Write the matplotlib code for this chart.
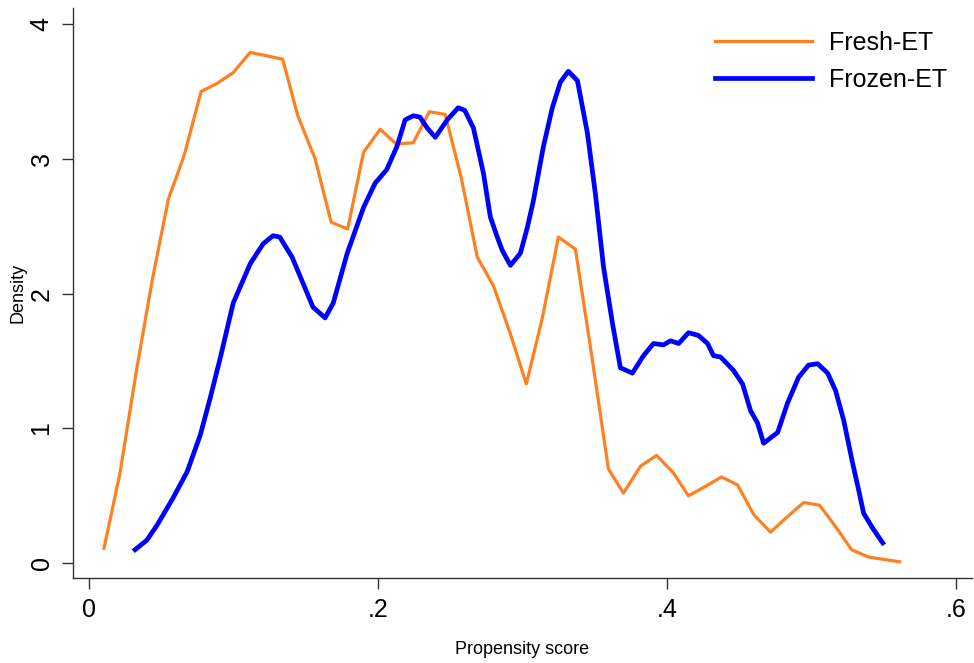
import matplotlib
matplotlib.use("Agg")
import matplotlib.pyplot as plt

# Fresh-ET density
fresh_x = [0.0104, 0.0215, 0.0327, 0.0438, 0.0549, 0.0660, 0.0776, 0.0886, 0.0998,
           0.1115, 0.1340, 0.1445, 0.1565, 0.1676, 0.1790, 0.1900, 0.2015, 0.2126,
           0.2244, 0.2355, 0.2465, 0.2576, 0.2687, 0.2798, 0.2910, 0.3026, 0.3137,
           0.3248, 0.3366, 0.3470, 0.3594, 0.3698, 0.3816, 0.3927, 0.4044, 0.4148,
           0.4266, 0.4377, 0.4488, 0.4600, 0.4716, 0.4827, 0.4945, 0.5055, 0.5160,
           0.5277, 0.5395, 0.5610]
fresh_y = [0.11, 0.67, 1.42, 2.10, 2.70, 3.03, 3.50, 3.56, 3.64,
           3.79, 3.74, 3.32, 3.00, 2.53, 2.48, 3.05, 3.22, 3.11,
           3.12, 3.35, 3.33, 2.86, 2.27, 2.06, 1.72, 1.33, 1.82,
           2.42, 2.33, 1.60, 0.70, 0.52, 0.72, 0.80, 0.67, 0.50,
           0.57, 0.64, 0.58, 0.36, 0.23, 0.34, 0.45, 0.43, 0.28,
           0.10, 0.045, 0.01]

# Frozen-ET density
frozen_x = [0.0319, 0.0400, 0.0470, 0.0580, 0.0680, 0.0770, 0.0840, 0.0910, 0.0998,
            0.1115, 0.1205, 0.1274, 0.1320, 0.1406, 0.1480, 0.1550, 0.1634, 0.1690,
            0.1787, 0.1900, 0.1980, 0.2060, 0.2130, 0.2188, 0.2244, 0.2290, 0.2340,
            0.2396, 0.2479, 0.2555, 0.2600, 0.2660, 0.2730, 0.2777, 0.2825, 0.2860,
            0.2916, 0.2985, 0.3033, 0.3075, 0.3144, 0.3206, 0.3262, 0.3317, 0.3380,
            0.3449, 0.3504, 0.3560, 0.3622, 0.3677, 0.3760, 0.3837, 0.3906, 0.3975,
            0.4024, 0.4080, 0.4148, 0.4217, 0.4280, 0.4321, 0.4370, 0.4460, 0.4522,
            0.4578, 0.4626, 0.4668, 0.4716, 0.4765, 0.4834, 0.4910, 0.4979, 0.5042,
            0.5111, 0.5166, 0.5222, 0.5284, 0.5326, 0.5360, 0.5422, 0.5492]
frozen_y = [0.10, 0.17, 0.28, 0.48, 0.68, 0.95, 1.23, 1.53, 1.93,
            2.22, 2.37, 2.43, 2.42, 2.27, 2.08, 1.90, 1.82, 1.93,
            2.30, 2.64, 2.82, 2.92, 3.09, 3.29, 3.32, 3.31, 3.23,
            3.16, 3.29, 3.38, 3.36, 3.23, 2.89, 2.57, 2.42, 2.32,
            2.21, 2.30, 2.49, 2.69, 3.09, 3.38, 3.57, 3.65, 3.58,
            3.19, 2.74, 2.20, 1.78, 1.45, 1.41, 1.54, 1.63, 1.62,
            1.65, 1.63, 1.71, 1.69, 1.63, 1.54, 1.53, 1.43, 1.33,
            1.13, 1.04, 0.89, 0.93, 0.97, 1.19, 1.38, 1.47, 1.48,
            1.41, 1.28, 1.06, 0.74, 0.54, 0.37, 0.26, 0.15]

x_ticks = [0, 0.2, 0.4, 0.6]
x_labels = ["0", ".2", ".4", ".6"]
y_ticks = [0, 1, 2, 3, 4]

plt.rcParams['font.family'] = ['Liberation Sans', 'DejaVu Sans']

fig = plt.figure(figsize=(9.74, 6.63), dpi=100)
ax = fig.add_axes([0.075, 0.128, 0.923, 0.86])

ax.plot(fresh_x, fresh_y, color='#FF8021', lw=2.3, label='Fresh-ET')
ax.plot(frozen_x, frozen_y, color='#0000FF', lw=3.4, label='Frozen-ET')

ax.set_xlim(-0.011, 0.611)
ax.set_ylim(-0.111, 4.12)
ax.set_xticks(x_ticks)
ax.set_xticklabels(x_labels)
ax.set_yticks(y_ticks)
ax.tick_params(axis='both', direction='out', length=8, width=1, labelsize=18, pad=6, color='#333333')
plt.setp(ax.get_yticklabels(), rotation=90, va='center')

for s in ['top', 'right']:
    ax.spines[s].set_visible(False)
for s in ['left', 'bottom']:
    ax.spines[s].set_color('#333333')
    ax.spines[s].set_linewidth(1)

ax.set_xlabel('Propensity score', fontsize=13, labelpad=14)
ax.set_ylabel('Density', fontsize=13, labelpad=2)

ax.legend(loc='upper right', bbox_to_anchor=(0.997, 0.999), frameon=False, fontsize=18,
          handlelength=3.9, handletextpad=0.65, labelspacing=0.5)

fig.savefig('out.png', dpi=100)
